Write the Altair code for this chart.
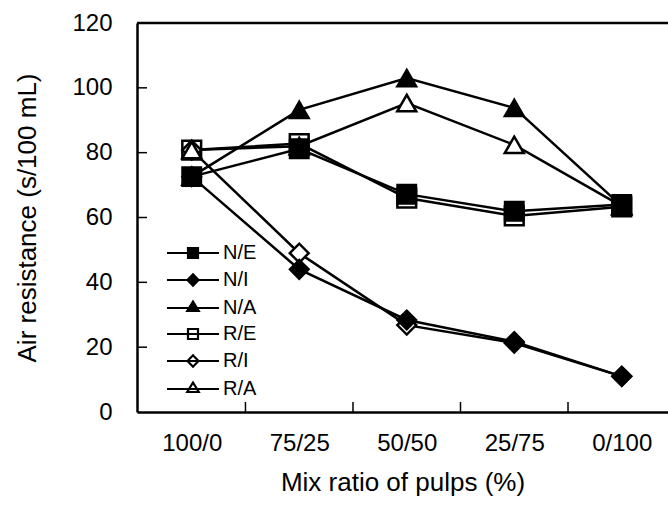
import json
import altair as alt
import pandas as pd

categories = ["100/0", "75/25", "50/50", "25/75", "0/100"]
series = ["N/E", "N/I", "N/A", "R/E", "R/I", "R/A"]
N_E = [72.6, 81.2, 67.2, 61.9, 64.0]
N_I = [72.6, 44.0, 28.4, 21.7, 11.0]
N_A = [72.6, 93.2, 103.0, 93.8, 63.5]
R_E = [80.8, 82.8, 66.0, 60.5, 63.3]
R_I = [80.8, 49.0, 26.8, 21.3, 11.0]
R_A = [80.8, 82.0, 95.3, 82.4, 63.5]
values = {"N/E": N_E, "N/I": N_I, "N/A": N_A, "R/E": R_E, "R/I": R_I, "R/A": R_A}

shapes = ["square", "diamond", "triangle-up", "square", "diamond", "triangle-up"]
fills = ["black", "black", "black", "white", "white", "white"]
strokes = ["black"] * 6
sizes = [340, 360, 430, 340, 360, 430]
line_part = "M-5.2,0H5.2"
legend_paths = [
    line_part + "M-1,-1H1V1H-1Z",
    line_part + "M0,-1.15L1.1,0L0,1.15L-1.1,0Z",
    line_part + "M0,-1.3L1.15,0.6H-1.15Z",
    line_part + "M-1,-1H1V1H-1Z",
    line_part + "M0,-1.15L1.1,0L0,1.15L-1.1,0Z",
    line_part + "M0,-1.3L1.15,0.6H-1.15Z",
]

rows = []
for s in series:
    for i, c in enumerate(categories):
        rows.append({"series": s, "xi": i, "value": values[s][i]})
df = pd.DataFrame(rows)
# draw R series under the N series
df_pts = pd.concat([df[df.series.str.startswith("R")], df[df.series.str.startswith("N")]])

W, H = 531, 389
FONT = "Liberation Sans"
label_expr = json.dumps(categories) + "[datum.value]"

x_enc = alt.X(
    "xi:Q",
    scale=alt.Scale(domain=[-0.509, 4.43], nice=False, zero=False),
    axis=alt.Axis(
        values=[0, 1, 2, 3, 4], labelExpr=label_expr, tickSize=0, grid=False,
        domainColor="black", domainWidth=2.5, labelFontSize=24, labelColor="black",
        labelFont=FONT, labelPadding=19, labelFlush=False,
        title="Mix ratio of pulps (%)", titleFontSize=26, titleFont=FONT,
        titleFontWeight="normal", titleColor="black", titlePadding=14,
    ),
)
y_enc = alt.Y(
    "value:Q",
    scale=alt.Scale(domain=[0, 120], nice=False),
    axis=alt.Axis(
        values=[0, 20, 40, 60, 80, 100, 120], tickSize=0, grid=False,
        domainColor="black", domainWidth=2.5, labelFontSize=24, labelColor="black",
        labelFont=FONT, labelPadding=25,
        title="Air resistance (s/100 mL)", titleFontSize=26, titleFont=FONT,
        titleFontWeight="normal", titleColor="black", titlePadding=31,
    ),
)

lines = alt.Chart(df).mark_line(color="black", strokeWidth=2.5).encode(
    x=x_enc, y=y_enc, detail="series:N", order="xi:Q"
)

points = alt.Chart(df_pts).mark_point(filled=True, stroke="black", strokeWidth=2.5, opacity=1).encode(
    x="xi:Q", y="value:Q",
    shape=alt.Shape("series:N", scale=alt.Scale(domain=series, range=shapes), legend=None),
    fill=alt.Fill("series:N", scale=alt.Scale(domain=series, range=fills), legend=None),
    size=alt.Size("series:N", scale=alt.Scale(domain=series, range=sizes), legend=None),
)

leg = alt.Legend(
    orient="none", legendX=46, legendY=220, title=None, labelFontSize=20,
    labelFont=FONT, labelColor="black", symbolSize=100, symbolStrokeWidth=2.2,
    symbolStrokeColor="black", symbolOpacity=1, labelOffset=20, rowPadding=6,
    padding=0,
)
legend_layer = alt.Chart(df).mark_point(filled=True, opacity=0, strokeWidth=2.2).encode(
    x="xi:Q", y="value:Q",
    shape=alt.Shape("series:N", scale=alt.Scale(domain=series, range=legend_paths), legend=leg, sort=series),
    fill=alt.Fill("series:N", scale=alt.Scale(domain=series, range=fills), legend=leg, sort=series),
    stroke=alt.Stroke("series:N", scale=alt.Scale(domain=series, range=strokes), legend=leg, sort=series),
)

x_ticks = pd.DataFrame({"xt": [0.5, 1.5, 2.5, 3.5]})
y_ticks = pd.DataFrame({"yt": [20, 40, 60, 80, 100]})
xt = alt.Chart(x_ticks).mark_rule(color="black", strokeWidth=1.5).encode(
    x="xt:Q", y=alt.value(H), y2=alt.value(H - 10)
)
yt = alt.Chart(y_ticks).mark_rule(color="black", strokeWidth=1.5).encode(
    y="yt:Q", x=alt.value(0), x2=alt.value(10)
)
top = alt.Chart(pd.DataFrame({"yt": [120]})).mark_rule(color="black", strokeWidth=2.5).encode(
    y="yt:Q", x=alt.value(0), x2=alt.value(W)
)

chart = (
    alt.layer(lines, xt, yt, top, points, legend_layer)
    .resolve_scale(shape="independent", fill="independent", stroke="independent")
    .properties(
        width=W, height=H,
        padding={"left": 137, "top": 23, "right": 0, "bottom": 93},
        autosize=alt.AutoSizeParams(type="none"),
        background="white",
    )
    .configure_view(stroke=None)
)

chart.save("out.html", embed_options={"renderer": "svg", "actions": False})
